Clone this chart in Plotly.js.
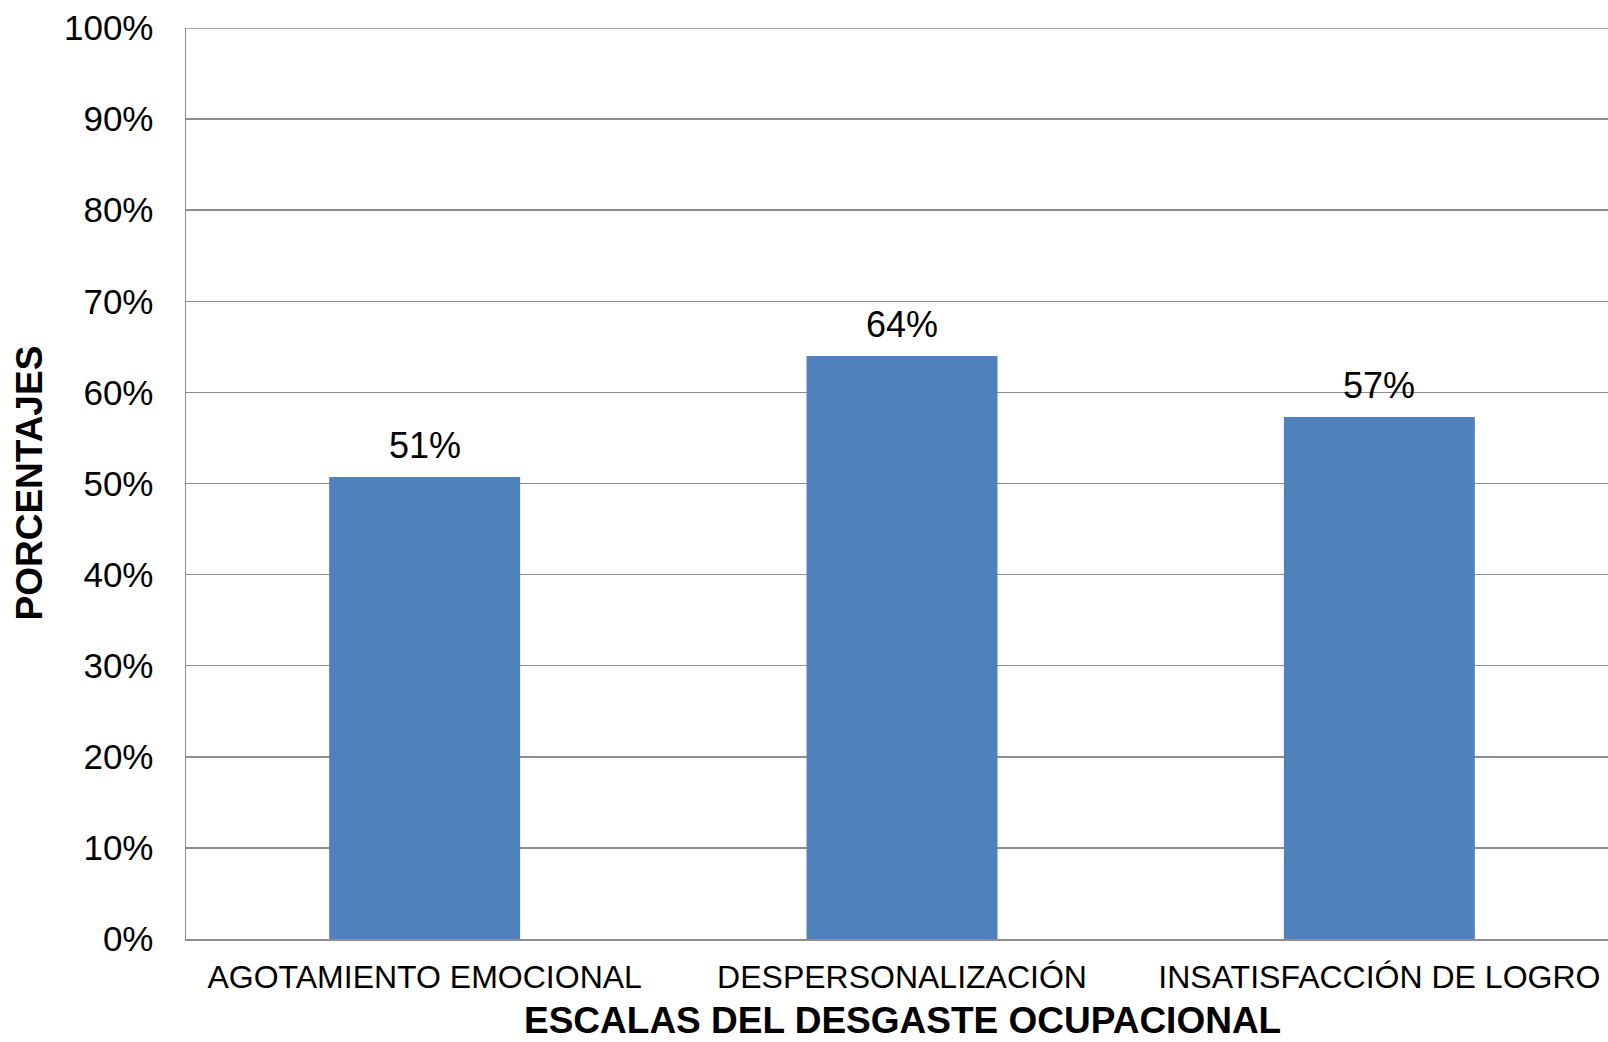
<!DOCTYPE html>
<html>
<head>
<meta charset="utf-8">
<script src="https://cdn.plot.ly/plotly-3.0.1.min.js"></script>
<style>html,body{margin:0;padding:0;background:#fff;}#chart{width:1608px;height:1042px;}</style>
</head>
<body>
<div id="chart"></div>
<script>
const categories = ["AGOTAMIENTO EMOCIONAL", "DESPERSONALIZACIÓN", "INSATISFACCIÓN DE LOGRO"];
const values = [0.507, 0.640, 0.573];
const labels = ["51%", "64%", "57%"];
const yTickVals = [0, 0.1, 0.2, 0.3, 0.4, 0.5, 0.6, 0.7, 0.8, 0.9, 1.0];
const yTickText = ["0%", "10%", "20%", "30%", "40%", "50%", "60%", "70%", "80%", "90%", "100%"];
const xTitle = "ESCALAS DEL DESGASTE OCUPACIONAL";
const yTitle = "PORCENTAJES";

const FONT = "Liberation Sans, Arial, sans-serif";
const GRID = "#8e8e8e";

const trace = {
  type: "bar",
  x: categories,
  y: values,
  width: 0.4,
  marker: {color: "#4F81BD", line: {width: 0}},
  hoverinfo: "none"
};

const annotations = categories.map((c, i) => ({
  x: c, y: values[i], xref: "x", yref: "y",
  text: labels[i], showarrow: false,
  yanchor: "bottom", yshift: 9,
  font: {family: FONT, size: 36, color: "#000"}
}));
annotations.push({
  x: categories[1], y: 0, xref: "x", yref: "paper",
  text: "<b>" + xTitle + "</b>", showarrow: false,
  yanchor: "middle", yshift: -81,
  font: {family: FONT, size: 37, color: "#000"}
});
annotations.push({
  x: 0, y: 0.5, xref: "paper", yref: "paper",
  text: "<b>" + yTitle + "</b>", showarrow: false,
  textangle: -90, xanchor: "center", yanchor: "middle", xshift: -157,
  font: {family: FONT, size: 37, color: "#000"}
});

const layout = {
  width: 1608, height: 1042,
  margin: {l: 186, r: 0, t: 28, b: 103},
  paper_bgcolor: "#fff", plot_bgcolor: "#fff",
  showlegend: false,
  xaxis: {
    type: "category",
    range: [-0.5, 2.479],
    showgrid: false,
    showline: true, linecolor: GRID, linewidth: 1.5,
    ticks: "",
    ticklabelstandoff: 9,
    tickfont: {family: FONT, size: 32, color: "#000"},
    zeroline: false
  },
  yaxis: {
    range: [0, 1.0],
    tickvals: yTickVals, ticktext: yTickText,
    showgrid: true, gridcolor: GRID, gridwidth: 1.5,
    showline: true, linecolor: GRID, linewidth: 1.5,
    ticks: "",
    ticklabelstandoff: 24,
    tickfont: {family: FONT, size: 35, color: "#000"},
    zeroline: false
  },
  shapes: [{
    type: "line", xref: "paper", yref: "y",
    x0: 0, x1: 1, y0: 1, y1: 1,
    line: {color: GRID, width: 1.5}, layer: "below"
  }],
  annotations: annotations
};

Plotly.newPlot("chart", [trace], layout, {displayModeBar: false, staticPlot: true});
</script>
</body>
</html>
